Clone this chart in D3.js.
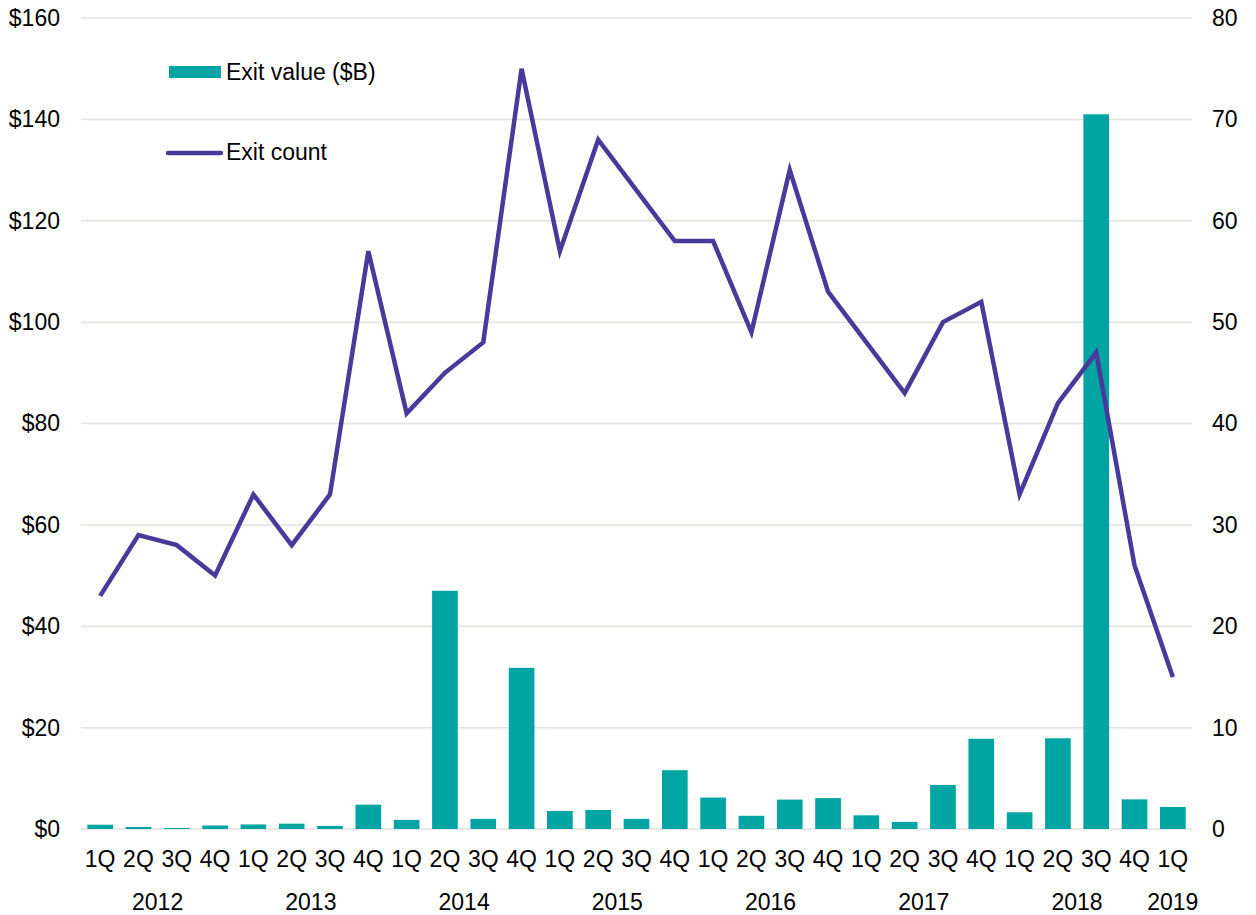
<!DOCTYPE html>
<html><head><meta charset="utf-8">
<script src="https://cdn.jsdelivr.net/npm/d3@7"></script>
<style>body{margin:0;background:#fff;} text{font-family:"Liberation Sans",Arial,sans-serif;}</style>
</head><body><svg id="c" width="1256" height="915"></svg>
<script>
const quarters = ["1Q","2Q","3Q","4Q","1Q","2Q","3Q","4Q","1Q","2Q","3Q","4Q","1Q","2Q","3Q","4Q","1Q","2Q","3Q","4Q","1Q","2Q","3Q","4Q","1Q","2Q","3Q","4Q","1Q"];
const years = ["2012","2012","2012","2012","2013","2013","2013","2013","2014","2014","2014","2014","2015","2015","2015","2015","2016","2016","2016","2016","2017","2017","2017","2017","2018","2018","2018","2018","2019"];
const exitValue = [0.85,0.4,0.2,0.7,0.9,1.05,0.6,4.8,1.8,47,2.0,31.8,3.55,3.75,2.0,11.6,6.2,2.6,5.8,6.1,2.7,1.4,8.7,17.8,3.3,17.9,141,5.85,4.35];
const exitCount = [23,29,28,25,33,28,33,57,41,45,48,75,57,68,63,58,58,49,65,53,48,43,50,52,33,42,47,26,15];
const leftTicks = [0,20,40,60,80,100,120,140,160];
const rightTicks = [0,10,20,30,40,50,60,70,80];

const svg = d3.select("#c");
const L = 81, R = 1192, T = 18, B = 829;
const FS = 23;
const idx = d3.range(quarters.length);
const x = d3.scaleBand().domain(idx).range([L, R]).paddingInner(0.33).paddingOuter(0.165);
const yL = d3.scaleLinear().domain([0,160]).range([B, T]);
const yR = d3.scaleLinear().domain([0,80]).range([B, T]);
const teal = "#00A4A2", purple = "#483A9A";

// gridlines
svg.append("g").selectAll("line").data(leftTicks).join("line")
  .attr("x1", L).attr("x2", R).attr("y1", d=>yL(d)).attr("y2", d=>yL(d))
  .attr("stroke", "#e3e2de").attr("stroke-width", 1.5);

// axes
const axL = svg.append("g").attr("transform", `translate(${L},0)`)
  .call(d3.axisLeft(yL).tickValues(leftTicks).tickFormat(d=>"$"+d).tickSize(0).tickPadding(21));
axL.select(".domain").remove();
const axR = svg.append("g").attr("transform", `translate(${R},0)`)
  .call(d3.axisRight(yR).tickValues(rightTicks).tickSize(0).tickPadding(20));
axR.select(".domain").remove();
svg.selectAll(".tick text").attr("font-size", FS).attr("fill", "#000").attr("font-family", "Liberation Sans, Arial, sans-serif");

// bars
svg.append("g").selectAll("rect").data(idx).join("rect")
  .attr("x", i=>x(i)).attr("width", x.bandwidth())
  .attr("y", i=>yL(exitValue[i])).attr("height", i=>B - yL(exitValue[i]))
  .attr("fill", teal);

// line
const line = d3.line().x(i=>x(i)+x.bandwidth()/2).y(i=>yR(exitCount[i]));
svg.append("path").datum(idx).attr("d", line).attr("fill","none")
  .attr("stroke", purple).attr("stroke-width", 4.5).attr("stroke-linejoin","miter");

// category labels
svg.append("g").selectAll("text").data(idx).join("text")
  .attr("x", i=>x(i)+x.bandwidth()/2).attr("y", 867).attr("text-anchor","middle")
  .attr("font-size", FS).attr("fill","#000").text(i=>quarters[i]);

// year labels
const yearGroups = d3.groups(idx, i=>years[i]);
svg.append("g").selectAll("text").data(yearGroups).join("text")
  .attr("x", d=>{const a=d[1][0], b=d[1][d[1].length-1]; return (x(a)+x(b)+x.bandwidth())/2;})
  .attr("y", 910).attr("text-anchor","middle").attr("font-size",FS).attr("fill","#000")
  .text(d=>d[0]);

// legend
const lg = svg.append("g");
lg.append("rect").attr("x",169).attr("y",66).attr("width",52).attr("height",12).attr("fill",teal);
lg.append("text").attr("x",226).attr("y",80).attr("font-size",FS).text("Exit value ($B)");
lg.append("line").attr("x1",168).attr("x2",221).attr("y1",153).attr("y2",153)
  .attr("stroke",purple).attr("stroke-width",4.5).attr("stroke-linecap","round");
lg.append("text").attr("x",226).attr("y",160).attr("font-size",FS).text("Exit count");
</script></body></html>
